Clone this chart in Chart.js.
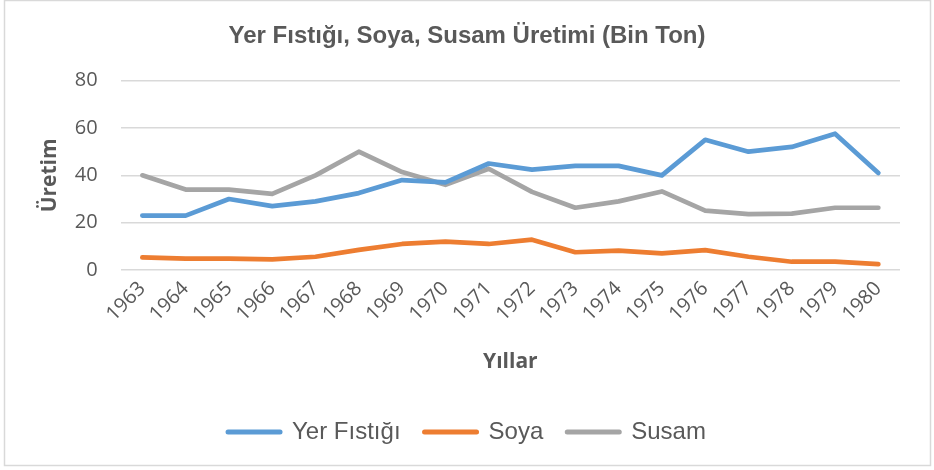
<!DOCTYPE html>
<html lang="tr">

<head>
    <meta charset="UTF-8">
    <title>Yer Fıstığı, Soya, Susam Üretimi</title>
    <style>
        html, body {
            margin: 0;
            padding: 0;
            background: #ffffff;
        }

        .wrap {
            width: 934px;
            height: 470px;
        }
    </style>
</head>

<body>
    <div class="wrap">
        <canvas id="chart" width="934" height="470"></canvas>
    </div>

    <script src="https://cdn.jsdelivr.net/npm/chart.js"></script>
    <script>
        // data
        var years = ["1963", "1964", "1965", "1966", "1967", "1968", "1969", "1970", "1971",
            "1972", "1973", "1974", "1975", "1976", "1977", "1978", "1979", "1980"];
        var yerFistigi = [23, 23, 30, 27, 29, 32.5, 38, 37, 45, 42.4, 44, 44, 40, 55, 50, 52, 57.6, 41];
        var soya = [5.3, 4.8, 4.8, 4.5, 5.6, 8.5, 11, 12, 11, 12.8, 7.5, 8.2, 7, 8.4, 5.6, 3.5, 3.5, 2.5];
        var susam = [40, 34, 34, 32.2, 40, 50, 41.4, 36, 42.8, 33, 26.3, 29, 33.2, 25.1, 23.6, 23.8, 26.3, 26.3];
        var yTicks = [0, 20, 40, 60, 80];

        var textColor = "#595959";
        var gridColor = "#d9d9d9";

        // thin grey frame round the whole chart
        var framePlugin = {
            id: "frame",
            afterDraw: function (chart) {
                var ctx = chart.ctx;
                ctx.save();
                ctx.strokeStyle = gridColor;
                ctx.lineWidth = 1.5;
                ctx.strokeRect(4.5, 0.5, 926, 465);
                ctx.restore();
            }
        };

        function line(label, values, color) {
            return {
                label: label,
                data: values,
                borderColor: color,
                backgroundColor: color,
                borderWidth: 4.7,
                pointRadius: 0,
                pointHoverRadius: 0,
                tension: 0,
                borderCapStyle: "round",
                borderJoinStyle: "round"
            };
        }

        var ctx = document.getElementById("chart").getContext("2d");
        var myChart = new Chart(ctx, {
            type: "line",
            data: {
                labels: years,
                datasets: [
                    line("Yer Fıstığı", yerFistigi, "#5b9bd5"),
                    line("Soya", soya, "#ed7d31"),
                    line("Susam", susam, "#a5a5a5")
                ]
            },
            plugins: [framePlugin],
            options: {
                responsive: false,
                animation: false,
                layout: {
                    padding: { left: 34, right: 34, top: 0, bottom: 16 }
                },
                plugins: {
                    title: {
                        display: true,
                        text: "Yer Fıstığı, Soya, Susam Üretimi (Bin Ton)",
                        color: textColor,
                        font: { family: "'Liberation Sans', Arial, sans-serif", size: 24, weight: "bold" },
                        padding: { top: 21.6, bottom: 30.3 }
                    },
                    legend: {
                        position: "bottom",
                        labels: {
                            color: textColor,
                            font: { family: "'Liberation Sans', Arial, sans-serif", size: 24 },
                            usePointStyle: true,
                            pointStyle: "line",
                            pointStyleWidth: 52,
                            padding: 24,
                            generateLabels: function (chart) {
                                var items = Chart.defaults.plugins.legend.labels.generateLabels(chart);
                                items.forEach(function (it) {
                                    it.lineWidth = 5;
                                    it.lineCap = "round";
                                    it.pointStyle = "line";
                                });
                                return items;
                            }
                        }
                    },
                    tooltip: { enabled: false }
                },
                scales: {
                    x: {
                        offset: true,
                        grid: { display: false, drawTicks: false },
                        border: { display: false },
                        ticks: {
                            color: textColor,
                            font: { family: "'Open Sans', sans-serif", size: 20 },
                            minRotation: 45,
                            maxRotation: 45,
                            padding: 7,
                            autoSkip: false
                        },
                        title: {
                            display: true,
                            text: "Yıllar",
                            color: textColor,
                            font: { family: "'Open Sans', sans-serif", size: 21, weight: "bold" },
                            padding: { top: 4, bottom: 21 }
                        },
                        afterFit: function (scale) {
                            scale.height = 126;
                        }
                    },
                    y: {
                        min: 0,
                        max: 80,
                        afterBuildTicks: function (scale) {
                            scale.ticks = yTicks.map(function (v) { return { value: v }; });
                        },
                        grid: { color: gridColor, lineWidth: 1.5, drawTicks: false },
                        border: { display: false },
                        ticks: {
                            color: textColor,
                            font: { family: "'Open Sans', sans-serif", size: 20 },
                            padding: 23
                        },
                        title: {
                            display: true,
                            text: "Üretim",
                            color: textColor,
                            font: { family: "'Open Sans', sans-serif", size: 21, weight: "bold" },
                            padding: { top: 3.4, bottom: 0 }
                        },
                        afterFit: function (scale) {
                            scale.width = 86.7;
                        }
                    }
                }
            }
        });
    </script>
</body>

</html>
